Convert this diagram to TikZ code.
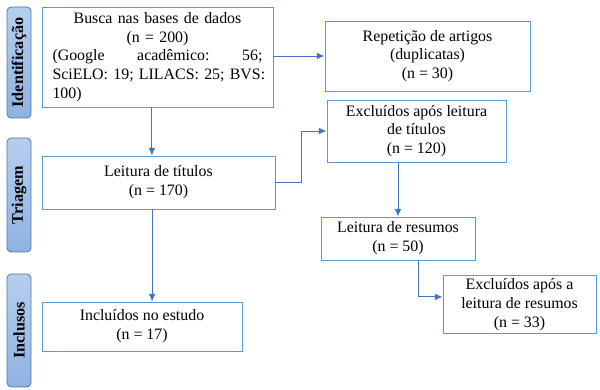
\documentclass[tikz,border=0pt]{standalone}
\usepackage{fontspec}
\setmainfont{Liberation Serif}
\usetikzlibrary{arrows.meta,calc}
\definecolor{boxblue}{RGB}{91,155,213}
\definecolor{arrowblue}{RGB}{68,114,196}
\definecolor{stagetop}{RGB}{183,206,238}
\definecolor{stagebot}{RGB}{142,178,226}
\begin{document}
\begin{tikzpicture}[
  stepbox/.style = {
    draw = boxblue,
    line width = 0.7pt,
    fill = white,
    align = center,
    inner sep = 2pt,
    font = \fontsize{11.3}{13.3}\selectfont,
  },
  stage/.style = {
    draw = boxblue!80!black,
    line width = 0.6pt,
    rounded corners = 3pt,
    top color = stagetop,
    bottom color = stagebot,
    rotate = 90,
    minimum height = 0.6cm,
    inner sep = 1pt,
    font = \fontsize{11.5}{13}\selectfont\bfseries,
  },
  link/.style = {
    draw = arrowblue,
    line width = 0.7pt,
    -{Latex[length=1.9mm,width=1.7mm]},
  },
]
\useasboundingbox (0,0) rectangle (15,9.75);

% fases
\node[stage, minimum width=2.775cm] (ident) at (0.475,8.1875) {Identificação};
\node[stage, minimum width=2.85cm] (triag) at (0.475,4.875) {Triagem};
\node[stage, minimum width=2.825cm] (inclu) at (0.475,1.4875) {Inclusos};

% caixas
\node[stepbox, minimum width=5.775cm, minimum height=2.5cm, text width=5.25cm, align=left] (busca) at (3.9375,8.325)
  {\makebox[\linewidth][c]{Busca nas bases de dados}\\
   \makebox[\linewidth][c]{(n = 200)}\\
   \makebox[\linewidth][l]{(Google\hfill acadêmico:\hfill 56;}\\
   \makebox[\linewidth][l]{SciELO: 19; LILACS: 25; BVS:}\\
   100)};
\node[stepbox, minimum width=5.125cm, minimum height=1.75cm] (repet) at (10.6875,8.35)
  {Repetição de artigos\\ (duplicatas)\\ (n = 30)};
\node[stepbox, minimum width=4.475cm, minimum height=1.55cm] (exctit) at (10.4125,6.475)
  {Excluídos após leitura\\ de títulos\\ (n = 120)};
\node[stepbox, minimum width=5.825cm, minimum height=1.325cm] (leittit) at (3.9625,5.1875)
  {Leitura de títulos\\ (n = 170)};
\node[stepbox, minimum width=3.85cm, minimum height=1.075cm] (leitres) at (9.95,3.7875)
  {Leitura de resumos\\ (n = 50)};
\node[stepbox, minimum width=3.825cm, minimum height=1.425cm] (excres) at (12.9875,2.1375)
  {Excluídos após a\\ leitura de resumos\\ (n = 33)};
\node[stepbox, minimum width=5cm, minimum height=1.225cm] (incl) at (3.55,1.5875)
  {Incluídos no estudo\\ (n = 17)};

% setas
\draw[link] (busca.east |- repet.west) -- (repet.west);
\draw[link] ([xshift=-0.14cm]busca.south) -- ([xshift=-0.14cm]busca.south |- leittit.north);
\draw[link] (leittit.east) -- ++(0.65,0) |- (exctit.west);
\draw[link] (exctit.south -| leitres.north) -- (leitres.north);
\draw[link] ([xshift=0.5cm]leitres.south) |- ([yshift=0.19cm]excres.west);
\draw[link] ([xshift=-0.16cm]leittit.south) -- ([xshift=-0.16cm]leittit.south |- incl.north);
\end{tikzpicture}
\end{document}
